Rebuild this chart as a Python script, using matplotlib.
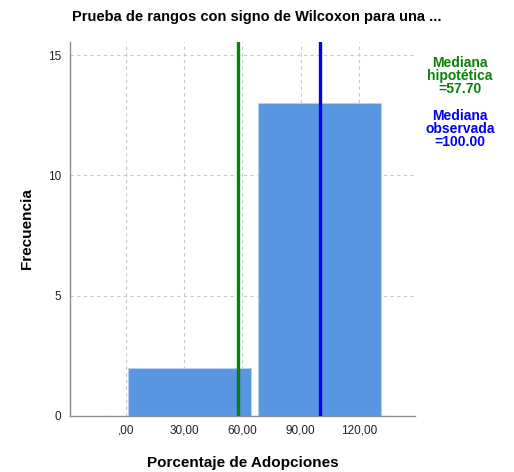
import numpy as np
import matplotlib
matplotlib.use('Agg')
import matplotlib.pyplot as plt

plt.rcParams['font.family'] = ['Liberation Sans', 'DejaVu Sans']

# histogram data
bin_edges = [-0.5, 66.4, 133.2]
counts = [2, 13]
median_hyp = 57.70
median_obs = 100.00

x_ticks = [0, 30, 60, 90, 120]
x_tick_labels = [',00', '30,00', '60,00', '90,00', '120,00']
y_ticks = [0, 5, 10, 15]

fig = plt.figure(figsize=(5.14, 4.72), dpi=100)
ax = fig.add_axes([0.136, 0.119, 0.671, 0.792])

# bars with a small inset so neighbours show a white gap
inset = 1.75
for i, c in enumerate(counts):
    left = bin_edges[i] + inset
    right = bin_edges[i + 1] - inset
    ax.bar(left, c, width=right - left, align='edge', color='#5896e2',
           edgecolor='#b5d0f2', linewidth=0.8, zorder=2)

ax.axvline(median_hyp, color='#0a800a', linewidth=2.4, zorder=3)
ax.axvline(median_obs, color='#0000ee', linewidth=2.4, zorder=3)

ax.set_xlim(-28.8, 148.7)
ax.set_ylim(0, 15.55)
ax.set_xticks(x_ticks)
ax.set_xticklabels(x_tick_labels)
ax.set_yticks(y_ticks)
ax.tick_params(axis='both', length=0, labelsize=8.5, colors='#222222', pad=6)

ax.grid(True, linestyle=(0, (3, 3)), color='#c8c8c8', linewidth=0.8, zorder=0)
ax.set_axisbelow(True)
for s in ['top', 'right']:
    ax.spines[s].set_visible(False)
for s in ['left', 'bottom']:
    ax.spines[s].set_color('#8c8c8c')
    ax.spines[s].set_linewidth(1.0)

ax.set_xlabel('Porcentaje de Adopciones', fontsize=11, fontweight='bold', labelpad=14)
ax.set_ylabel('Frecuencia', fontsize=11, fontweight='bold', labelpad=10)
fig.text(0.5, 0.963, 'Prueba de rangos con signo de Wilcoxon para una ...',
         ha='center', va='center', fontsize=10.5, fontweight='bold')

fig.text(0.895, 0.839, 'Mediana\nhipotética\n=%.2f' % median_hyp, ha='center', va='center',
         fontsize=10, fontweight='bold', color='#0a800a', linespacing=0.9)
fig.text(0.895, 0.727, 'Mediana\nobservada\n=%.2f' % median_obs, ha='center', va='center',
         fontsize=10, fontweight='bold', color='#0000ee', linespacing=0.9)

fig.savefig('out.png', dpi=100)
